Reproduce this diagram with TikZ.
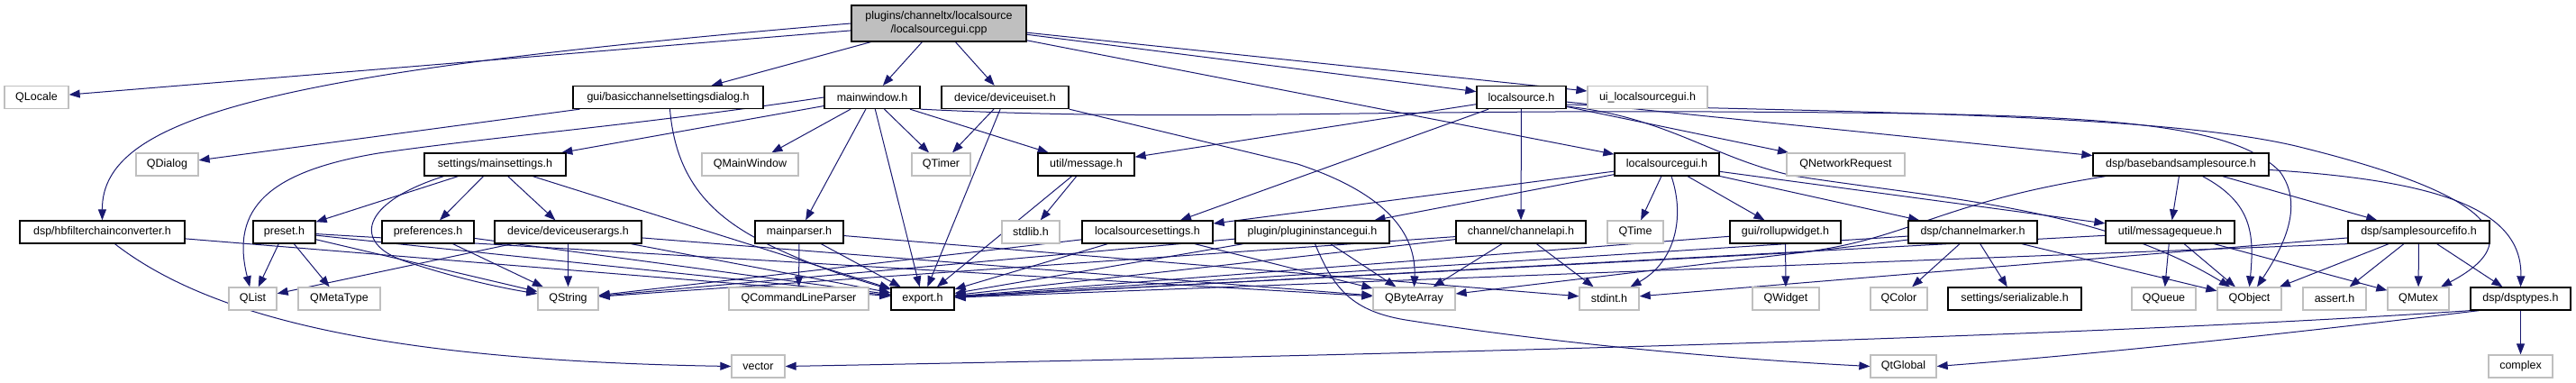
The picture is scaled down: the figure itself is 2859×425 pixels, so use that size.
\documentclass[tikz,border=0pt]{standalone}
\usepackage{fontspec}
\setmainfont{Liberation Sans}
\usetikzlibrary{arrows.meta,calc}
\definecolor{mblue}{RGB}{25,25,112}
\definecolor{gborder}{RGB}{191,191,191}
\definecolor{rootfill}{RGB}{191,191,191}
\pgfdeclarelayer{bg}
\pgfsetlayers{bg,main}
\begin{document}
\begin{tikzpicture}[x=1pt,y=-1pt,
 box/.style={draw=black,line width=1.3pt,fill=white,minimum height=25pt,inner sep=0pt,font=\fontsize{12.5}{15}\selectfont},
 gbox/.style={box,draw=gborder},
 dep/.style={draw=mblue,line width=1pt,-{Triangle[length=12pt,width=9pt]}}
]
\useasboundingbox (0,0) rectangle (2859,425);
% row 0
\node[box,fill=rootfill,minimum width=194pt,minimum height=40pt,align=center] (root) at (1042,26) {plugins/channeltx/localsource\\/localsourcegui.cpp};
% row 1
\node[gbox,minimum width=71pt] (qlocale) at (40.5,108) {QLocale};
\node[box,minimum width=211pt] (basic) at (741.5,108) {gui/basicchannelsettingsdialog.h};
\node[box,minimum width=106pt] (mainwindow) at (968,108) {mainwindow.h};
\node[box,minimum width=141pt] (deviceuiset) at (1115.5,108) {device/deviceuiset.h};
\node[box,minimum width=99pt] (localsource) at (1688.5,108) {localsource.h};
\node[gbox,minimum width=133pt] (uilsg) at (1828.5,108) {ui\_localsourcegui.h};
% row 2
\node[gbox,minimum width=69pt] (qdialog) at (185.5,182.5) {QDialog};
\node[box,minimum width=157pt] (mainsettings) at (549.5,182.5) {settings/mainsettings.h};
\node[gbox,minimum width=107pt] (qmainwindow) at (832.5,182.5) {QMainWindow};
\node[gbox,minimum width=65pt] (qtimer) at (1044.5,182.5) {QTimer};
\node[box,minimum width=107pt] (message) at (1205.5,182.5) {util/message.h};
\node[box,minimum width=116pt] (lsguih) at (1850,182.5) {localsourcegui.h};
\node[gbox,minimum width=131pt] (qnetreq) at (2048.5,182.5) {QNetworkRequest};
\node[box,minimum width=195pt] (bbss) at (2420.5,182.5) {dsp/basebandsamplesource.h};
% row 3
\node[box,minimum width=183pt] (hbfilter) at (113.5,257.5) {dsp/hbfilterchainconverter.h};
\node[box,minimum width=69pt] (preset) at (315.5,257.5) {preset.h};
\node[box,minimum width=102pt] (preferences) at (475,257.5) {preferences.h};
\node[box,minimum width=163pt] (deviceuserargs) at (630.5,257.5) {device/deviceuserargs.h};
\node[box,minimum width=98pt] (mainparser) at (887,257.5) {mainparser.h};
\node[gbox,minimum width=64pt] (stdlib) at (1144,257.5) {stdlib.h};
\node[box,minimum width=145pt] (lssettings) at (1273.5,257.5) {localsourcesettings.h};
\node[box,minimum width=171pt] (pig) at (1456.5,257.5) {plugin/plugininstancegui.h};
\node[box,minimum width=144pt] (channelapi) at (1688,257.5) {channel/channelapi.h};
\node[gbox,minimum width=62pt] (qtime) at (1815,257.5) {QTime};
\node[box,minimum width=123pt] (rollup) at (1981.5,257.5) {gui/rollupwidget.h};
\node[box,minimum width=143pt] (chmarker) at (2189.5,257.5) {dsp/channelmarker.h};
\node[box,minimum width=143pt] (msgqueue) at (2408.5,257.5) {util/messagequeue.h};
\node[box,minimum width=157pt] (ssfifo) at (2684.5,257.5) {dsp/samplesourcefifo.h};
% row 4
\node[gbox,minimum width=53pt] (qlist) at (280.5,331.5) {QList};
\node[gbox,minimum width=91pt] (qmetatype) at (376.5,331.5) {QMetaType};
\node[gbox,minimum width=67pt] (qstring) at (630.5,331.5) {QString};
\node[gbox,minimum width=155pt] (qclp) at (886.5,331.5) {QCommandLineParser};
\node[box,minimum width=70pt] (export) at (1024,331.5) {export.h};
\node[gbox,minimum width=91pt] (qbytearray) at (1569.5,331.5) {QByteArray};
\node[gbox,minimum width=66pt] (stdint) at (1786,331.5) {stdint.h};
\node[gbox,minimum width=74pt] (qwidget) at (1982,331.5) {QWidget};
\node[gbox,minimum width=63pt] (qcolor) at (2107.5,331.5) {QColor};
\node[box,minimum width=148pt] (serializable) at (2236,331.5) {settings/serializable.h};
\node[gbox,minimum width=71pt] (qqueue) at (2401.5,331.5) {QQueue};
\node[gbox,minimum width=71pt] (qobject) at (2496.5,331.5) {QObject};
\node[gbox,minimum width=70pt] (assert) at (2591,331.5) {assert.h};
\node[gbox,minimum width=68pt] (qmutex) at (2684,331.5) {QMutex};
\node[box,minimum width=111pt] (dsptypes) at (2797.5,331.5) {dsp/dsptypes.h};
% row 5
\node[gbox,minimum width=59pt] (vector) at (841.5,406.5) {vector};
\node[gbox,minimum width=73pt] (qtglobal) at (2112.5,406.5) {QtGlobal};
\node[gbox,minimum width=71pt] (complex) at (2797.5,406.5) {complex};

\begin{pgfonlayer}{bg}
\foreach \a/\b in {root/qlocale, root/basic, root/mainwindow, root/deviceuiset, root/localsource, root/uilsg, root/lsguih,
 basic/qdialog,
 mainwindow/mainsettings, mainwindow/qmainwindow, mainwindow/mainparser, mainwindow/qtimer, mainwindow/message, mainwindow/export,
 deviceuiset/qtimer, deviceuiset/export,
 localsource/message, localsource/lssettings, localsource/channelapi, localsource/qnetreq, localsource/bbss,
 message/stdlib, message/export,
 lsguih/lssettings, lsguih/pig, lsguih/qtime, lsguih/rollup, lsguih/chmarker, lsguih/msgqueue,
 bbss/msgqueue, bbss/ssfifo,
 mainsettings/preset, mainsettings/preferences, mainsettings/deviceuserargs, mainsettings/export,
 preset/qlist, preset/qmetatype, preset/qstring, preset/export, preset/qbytearray,
 preferences/qstring, preferences/export,
 deviceuserargs/qlist, deviceuserargs/qstring, deviceuserargs/export, deviceuserargs/qbytearray,
 mainparser/qclp, mainparser/export, mainparser/stdint,
 hbfilter/export,
 lssettings/qstring, lssettings/export, lssettings/qbytearray,
 pig/qstring, pig/export, pig/qbytearray,
 channelapi/qstring, channelapi/export, channelapi/qbytearray, channelapi/stdint,
 rollup/qwidget, rollup/export,
 chmarker/qcolor, chmarker/serializable, chmarker/qobject, chmarker/export, chmarker/qbytearray,
 msgqueue/qqueue, msgqueue/qobject, msgqueue/qmutex, msgqueue/export,
 ssfifo/qobject, ssfifo/assert, ssfifo/qmutex, ssfifo/dsptypes, ssfifo/stdint,
 dsptypes/complex}
 \draw[dep] (\a) -- (\b);
\draw[dep] (ssfifo.south west) -- (export);
% curved connectors
\draw[dep] (root.west) .. controls (300,80) and (113,130) .. (hbfilter.north);
\draw[dep] (mainwindow.west) .. controls (700,140) and (560,150) .. (420,170) .. controls (300,190) and (255,230) .. (qlist);
\draw[dep] (mainwindow.south east) .. controls (1300,135) and (1500,122) .. (1900,124) .. controls (2300,126) and (2470,130) .. (2530,190) .. controls (2560,230) and (2530,280) .. (qobject);
\draw[dep] ($(localsource.east)+(0,10)$) .. controls (1850,130) and (1900,175) .. (1990,195) .. controls (2150,220) and (2330,230) .. (qobject);
\draw[dep] ($(localsource.east)+(0,8)$) .. controls (2100,125) and (2420,128) .. (2560,165) .. controls (2740,210) and (2820,260) .. (qmutex);
\draw[dep] ($(bbss.south)+(24,0)$) .. controls (2500,225) and (2502,260) .. (qobject.north);
\draw[dep] ($(bbss.east)+(0,6)$) .. controls (2700,200) and (2800,230) .. (dsptypes.north);
\draw[dep] (bbss) .. controls (2150,225) and (2120,265) .. (2000,280) -- (export);
\draw[dep] ($(hbfilter.south)+(14,0)$) .. controls (230,350) and (420,400) .. (vector.west);
\draw[dep] (dsptypes.south west) .. controls (2300,375) and (1500,395) .. (vector.east);
\draw[dep] ($(dsptypes.south west)+(10,0)$) .. controls (2500,375) and (2300,395) .. (qtglobal.east);
\draw[dep] ($(pig.south)+(3,0)$) .. controls (1480,320) and (1500,345) .. (1560,355) .. controls (1750,385) and (1950,400) .. (qtglobal.west);
\draw[dep] ($(lsguih.south)+(5,0)$) .. controls (1870,240) and (1860,290) .. (stdint);
\draw[dep] (deviceuiset.south east) -- (1440,182) .. controls (1540,215) and (1572,260) .. (qbytearray.north);
\draw[dep] ($(basic.south)+(2,0)$) .. controls (750,200) and (790,240) .. (850,270) .. controls (900,295) and (950,310) .. (export);
\draw[dep] ($(mainsettings.south west)+(22,0)$) .. controls (400,225) and (390,270) .. (450,290) .. controls (510,310) and (560,320) .. (qstring);
\end{pgfonlayer}
\end{tikzpicture}
\end{document}
